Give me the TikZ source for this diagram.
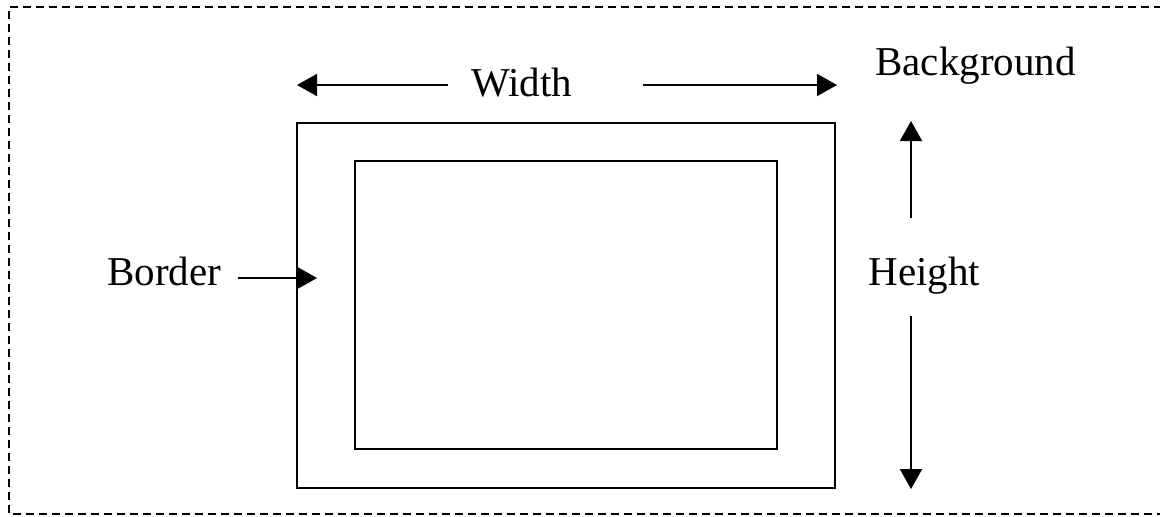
\documentclass[tikz,border=0pt]{standalone}
\usepackage{fontspec}
\setmainfont{Liberation Serif}
\usetikzlibrary{arrows.meta}
\begin{document}
\begin{tikzpicture}[x=0.5pt,y=-0.5pt,
  lbl/.style={inner sep=0pt,anchor=base west,font=\fontsize{20.5}{24}\selectfont},
  frame/.style={line width=1pt},
  arr/.style={line width=1pt,-{Triangle[length=10pt,width=11pt]}}]
\useasboundingbox (0,0) rectangle (1160,516);
\draw[line width=1pt,dash pattern=on 4pt off 2.5pt] (1162,7) -- (9,7) -- (9,514) -- (1162,514);
\draw[frame] (297,123) rectangle (835,488);
\draw[frame] (355,161) rectangle (777,449);
\node[lbl] (width) at (471,96) {Width};
\node[lbl] (bg) at (875,75) {Background};
\node[lbl] (border) at (107,285) {Border};
\node[lbl] (height) at (868,285) {Height};
\coordinate (wl1) at (448,85);
\coordinate (wl2) at (297,85);
\coordinate (wr1) at (643,85);
\coordinate (wr2) at (837,85);
\coordinate (b1) at (238,278);
\coordinate (b2) at (317,278);
\coordinate (hu1) at (911,218);
\coordinate (hu2) at (911,121);
\coordinate (hd1) at (911,316);
\coordinate (hd2) at (911,489);
\draw[arr] (wl1) -- (wl2);
\draw[arr] (wr1) -- (wr2);
\draw[arr] (b1) -- (b2);
\draw[arr] (hu1) -- (hu2);
\draw[arr] (hd1) -- (hd2);
\end{tikzpicture}
\end{document}
